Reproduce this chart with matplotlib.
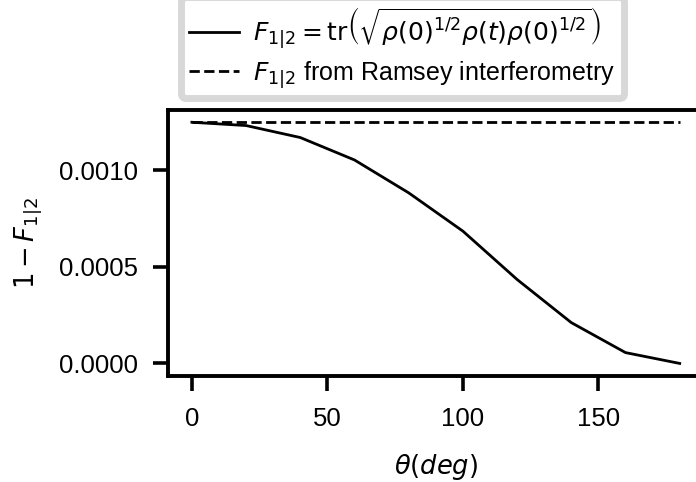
import numpy as np
import matplotlib
matplotlib.use("Agg")
import matplotlib.pyplot as plt

# data
theta = [0, 20, 40, 60, 80, 100, 120, 140, 160, 180]
infid_uhlmann = [0.001247, 0.001230, 0.001168, 0.001052, 0.000882, 0.000684,
                 0.000434, 0.000211, 0.0000560, 0.0]
infid_ramsey = [0.001248] * len(theta)

label_uhlmann = r'$F_{1|2} = \mathrm{tr}\left(\sqrt{\rho(0)^{1/2}\rho(t)\rho(0)^{1/2}}\right)$'
label_ramsey = r'$F_{1|2}$ from Ramsey interferometry'

plt.rcParams['font.family'] = ['Liberation Sans', 'DejaVu Sans']
plt.rcParams['mathtext.fontset'] = 'dejavusans'
fs = 18.5

fig = plt.figure(figsize=(6.96, 4.82), dpi=100)
ax = fig.add_axes([167.5 / 696, 1 - 375.5 / 482, 536.6 / 696, 265.5 / 482])

ax.plot(theta, infid_uhlmann, color='black', lw=2.0, label=label_uhlmann)
ax.plot(theta, infid_ramsey, color='black', lw=2.0, ls='--', label=label_ramsey)

ax.set_xlabel(r'$\theta (deg)$', fontsize=fs, labelpad=15)
ax.set_ylabel(r'$1 - F_{1|2}$', fontsize=fs, labelpad=11)
ax.set_xticks([0, 50, 100, 150])
ax.set_yticks([0.0, 0.0005, 0.0010])
ax.set_yticklabels(['0.0000', '0.0005', '0.0010'])
ax.tick_params(labelsize=fs, width=2.6, length=11)
ax.tick_params(axis='x', pad=12)
ax.tick_params(axis='y', pad=10)
for s in ax.spines.values():
    s.set_linewidth(2.8)

leg = ax.legend(loc='lower left', bbox_to_anchor=(180.5 / 696, 1 - 98.5 / 482),
                bbox_transform=fig.transFigure, borderaxespad=0, fontsize=18,
                handletextpad=0.55, labelspacing=0.3, borderpad=0.35,
                fancybox=True, framealpha=1, edgecolor='#d8d8d8')
leg.get_frame().set_linewidth(5)

fig.savefig('out.png', dpi=100)
